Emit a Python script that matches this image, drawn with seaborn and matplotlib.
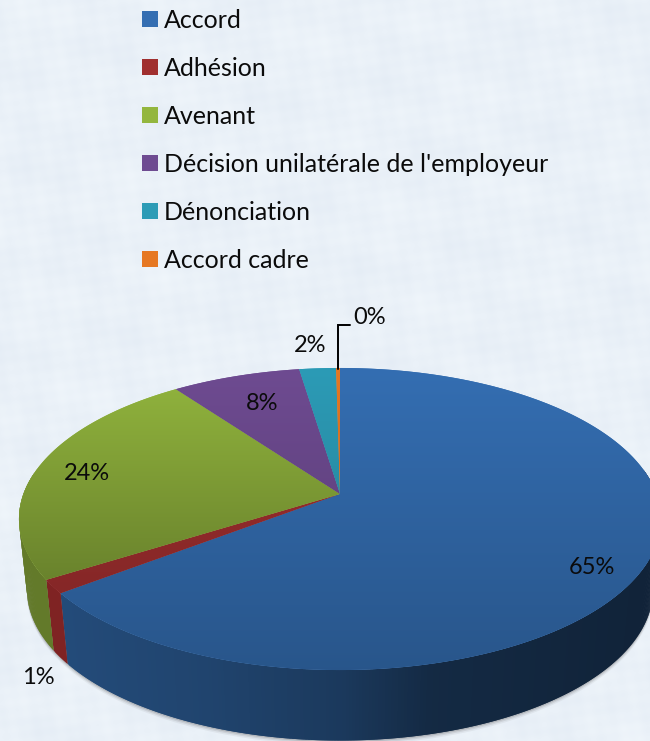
import numpy as np
import matplotlib
matplotlib.use("Agg")
import matplotlib.pyplot as plt
import matplotlib.transforms as mtrans
from matplotlib.path import Path
from matplotlib.collections import PolyCollection
from matplotlib.colors import to_rgb
import seaborn as sns

categories = ["Accord", "Adhésion", "Avenant", "Décision unilatérale de l'employeur", "Dénonciation", "Accord cadre"]
shares = [64.6, 1.45, 23.95, 7.6, 2.17, 0.23]
pct_labels = ["65%", "1%", "24%", "8%", "2%", "0%"]

colors = ["#346EB2", "#A02F2F", "#93B63E", "#6E4B91", "#2C9BB6", "#E67823"]
wall_colors = ["#346EB2", "#BB3434", "#91B43E", "#6E4B91", "#2C9BB6", "#E67823"]
shade = [0.22, 0.22, 0.40, 0.22, 0.22, 0.22]
label_pos = [(592, 567), (38, 678), (87, 474), (262, 403), (310, 346), (370, 318)]

W, H = 650, 741
APEX = (340.0, 494.0)
K, A, B, DEPTH, SHRINK = 0.1656, 146.9, 316.6, 70.5, 0.975


def project(xy):
    xy = np.asarray(xy, float)
    d = 1 + K * xy[..., 1]
    return np.stack([APEX[0] + B * xy[..., 0] / d, APEX[1] - A * xy[..., 1] / d], axis=-1)


def drop(p):
    """Lower rim of the wall for points of the upper rim."""
    p = np.asarray(p, float)
    return np.stack([APEX[0] + (p[..., 0] - APEX[0]) * SHRINK, p[..., 1] + DEPTH], axis=-1)


class DiscToScreen(mtrans.Transform):
    input_dims = output_dims = 2
    is_separable = False
    has_inverse = False

    def transform_non_affine(self, values):
        return project(values)

    def transform_path_non_affine(self, path):
        scaled = path.transformed(mtrans.Affine2D().scale(2000))
        polys = scaled.to_polygons(closed_only=True)
        return Path(project(polys[0] / 2000), closed=False)


sns.set_theme(style="white")
plt.rcParams["font.family"] = ["Lato", "DejaVu Sans"]

fig = plt.figure(figsize=(W / 100, H / 100), dpi=100)
ax = fig.add_axes([0, 0, 1, 1])

wedges, _ = ax.pie(shares, colors=colors, startangle=90, counterclock=False,
                   wedgeprops={"linewidth": 0})
ax.set_aspect("auto")
ax.set_xlim(0, W)
ax.set_ylim(H, 0)
ax.axis("off")

# paper-like backdrop
yy, xx = np.mgrid[0:H, 0:W]
tex = (0.6 * np.sin(xx / 31 + yy / 47) * np.cos(yy / 23 - xx / 61)
       + 0.7 * np.sin(xx / 11 - yy / 17) * np.sin(xx / 19 + yy / 13)
       + 0.5 * np.sin(xx / 4.3 + yy / 5.1) * np.cos(xx / 5.9 - yy / 3.7))
bg = np.dstack([234 + 3.0 * tex, 241 + 2.5 * tex, 248 + 1.5 * tex]) / 255
ax.imshow(bg, extent=(0, W, H, 0), aspect="auto", zorder=0, interpolation="bilinear")

disc = DiscToScreen()

# soft shadow below the wall
front = np.radians(np.linspace(170, 370, 200))
rim = project(np.stack([np.cos(front), np.sin(front)], axis=-1))
low = drop(rim)
for grow, alpha in [(4.5, 0.06), (3, 0.10), (1.5, 0.16)]:
    pts = low + [0, grow]
    ax.fill(np.r_[pts[:, 0], rim[::-1, 0]], np.r_[pts[:, 1], rim[::-1, 1]],
            color="#303030", alpha=alpha, lw=0, zorder=1)

# side wall, shaded along x
wall_x = [0, 65, 200, 340, 430, 640]
wall_f = [0.68, 0.68, 0.62, 0.52, 0.38, 0.32]
polys, fcs = [], []
for w, base in zip(wedges, wall_colors):
    a, b = w.theta1, w.theta2
    n = max(2, int((b - a) / 0.5))
    t = np.radians(np.linspace(a, b, n + 1))
    p = project(np.stack([np.cos(t), np.sin(t)], axis=-1))
    for i in range(n):
        if np.sin(t[i]) > 0.15:
            continue
        j = min(i + 2, n)
        q = np.array([p[i], p[j], drop(p[j]), drop(p[i])])
        polys.append(q)
        fcs.append(tuple(np.array(to_rgb(base)) * np.interp(p[i][0], wall_x, wall_f)))
pc = PolyCollection(polys, facecolors=fcs, edgecolors="none", linewidths=0, zorder=2)
ax.add_collection(pc)

# top face with a vertical gradient
ys = np.linspace(0, 1, 256)[:, None]
for w, c, s in zip(wedges, colors, shade):
    w.set_transform(disc + ax.transData)
    w.set_zorder(3)
    grad = np.array(to_rgb(c))[None, None, :] * (1 - s * ys[..., None])
    im = ax.imshow(grad, extent=(0, W, 670, 368), aspect="auto", zorder=4)
    im.set_clip_path(w)
ax.set_xlim(0, W)
ax.set_ylim(H, 0)

# leader line of the smallest slice
ax.plot([338, 338, 350], [369, 325, 325], color="black", lw=1.4, zorder=6,
        solid_joinstyle="miter")

for txt, (x, y) in zip(pct_labels, label_pos):
    ax.text(x, y, txt, ha="center", va="center", fontsize=17, color="#0b0b0b", zorder=7)

ax.legend(wedges, categories, loc="upper left", bbox_to_anchor=(142, 9),
          bbox_transform=ax.transData, frameon=False, borderpad=0, borderaxespad=0,
          fontsize=18, handlelength=0.64, handleheight=0.62, handletextpad=0.25,
          labelspacing=1.0, labelcolor="#0b0b0b")

fig.savefig("out.png", dpi=100)
